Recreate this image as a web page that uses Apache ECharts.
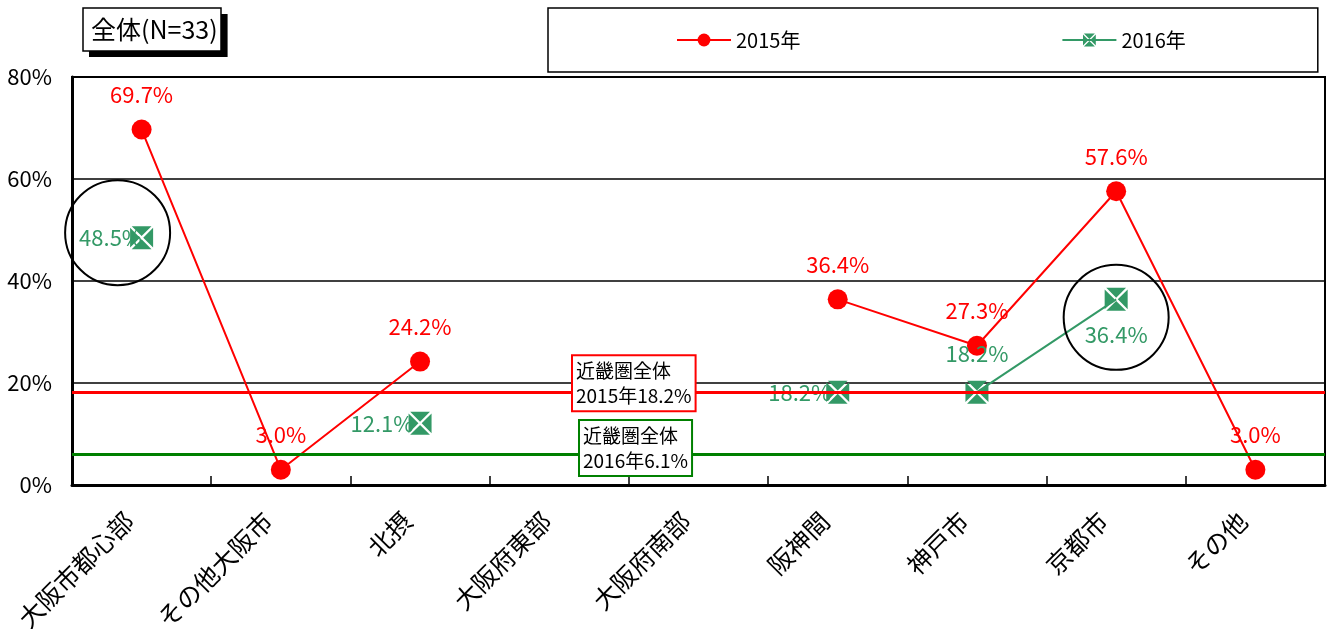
<!DOCTYPE html>
<html>
<head>
<meta charset="utf-8">
<script src="https://cdn.jsdelivr.net/npm/echarts@6/dist/echarts.min.js"></script>
<style>
  html, body { margin: 0; background: #fff; }
  #chart { width: 1332px; height: 637px; }
</style>
</head>
<body>
<div id="chart"></div>
<script>
const categories = ['大阪市都心部', 'その他大阪市', '北摂', '大阪府東部', '大阪府南部', '阪神間', '神戸市', '京都市', 'その他']
const values2015 = [69.7, 3.0, 24.2, null, null, 36.4, 27.3, 57.6, 3.0]
const values2016 = [48.5, null, 12.1, null, null, 18.2, 18.2, 36.4, null]
const seriesNames = ['2015年', '2016年']
const average2015 = 18.2
const average2016 = 6.1
const yTicks = [0, 20, 40, 60, 80]
const titleText = '全体(N=33)'

const font = 'Noto Sans CJK JP'
const red = '#ff0000'
const green = '#339966'
// square split by a white X
const crossBox = 'path://M1.4 0L18.6 0L10 8.6Z M1.4 20L18.6 20L10 11.4Z M0 1.4L0 18.6L8.6 10Z M20 1.4L20 18.6L11.4 10Z'

// label placement of the 2016 points
const pos2016 = ['left', null, 'left', null, null, 'left', 'top', 'bottom', null]
const dist2016 = [-12, 0, -5, 0, 0, -5, 16, 13, 0]

const pct = p => p.value == null ? '' : p.value.toFixed(1) + '%'

const titleBox = {
  text: titleText,
  padding: [9, 4, 9, 8],
  textStyle: { fontFamily: font, fontSize: 25, fontWeight: 'normal', color: '#000' }
}

const chart = echarts.init(document.getElementById('chart'))
chart.setOption({
  animation: false,
  textStyle: { fontFamily: font },
  title: [
    // drop shadow behind the title box
    Object.assign({}, titleBox, {
      left: 89, top: 14, backgroundColor: '#000',
      textStyle: Object.assign({}, titleBox.textStyle, { color: 'rgba(0,0,0,0)' })
    }),
    Object.assign({}, titleBox, {
      left: 83, top: 8, backgroundColor: '#fff', borderColor: '#000', borderWidth: 1.5
    })
  ],
  legend: {
    left: 548,
    top: 8,
    padding: [22, 132, 22, 128],
    itemGap: 261,
    itemWidth: 54,
    itemHeight: 16,
    borderColor: '#000',
    borderWidth: 1.5,
    backgroundColor: '#fff',
    textStyle: { fontFamily: font, fontSize: 20, color: '#000' },
    data: seriesNames
  },
  grid: {
    left: 72,
    right: 7,
    top: 77,
    bottom: 152,
    show: true,
    borderColor: '#000',
    borderWidth: 2
  },
  xAxis: {
    type: 'category',
    data: categories,
    boundaryGap: true,
    axisLine: { lineStyle: { color: '#000', width: 3 } },
    axisTick: { show: true, inside: true, length: 9, interval: 0, lineStyle: { color: '#000', width: 1.5 } },
    axisLabel: {
      interval: 0, rotate: 45, margin: 19, padding: [0, 18, 0, 0],
      color: '#000', fontSize: 25, fontFamily: font
    },
    splitLine: { show: false }
  },
  yAxis: {
    type: 'value',
    min: yTicks[0],
    max: yTicks[yTicks.length - 1],
    interval: yTicks[1] - yTicks[0],
    axisLine: { show: true, lineStyle: { color: '#000', width: 3 } },
    axisTick: { show: false },
    axisLabel: { formatter: '{value}%', margin: 20, color: '#000', fontSize: 22, fontFamily: font },
    splitLine: { lineStyle: { color: '#000', width: 1.5 } }
  },
  series: [
    {
      name: seriesNames[0],
      type: 'line',
      data: values2015,
      symbol: 'circle',
      symbolSize: 20,
      color: red,
      lineStyle: { color: red, width: 2 },
      itemStyle: { color: red },
      label: {
        show: true,
        position: 'top',
        distance: 14,
        formatter: pct,
        color: red,
        fontSize: 22,
        fontFamily: font
      },
      markLine: {
        silent: true,
        symbol: ['none', 'none'],
        lineStyle: { color: red, width: 3, type: 'solid' },
        label: {
          show: true,
          position: 'insideStartTop',
          distance: [501, -18],
          formatter: '近畿圏全体\n2015年' + average2015.toFixed(1) + '%',
          color: '#000',
          fontSize: 19,
          lineHeight: 25,
          fontFamily: font,
          backgroundColor: '#fff',
          borderColor: red,
          borderWidth: 2,
          padding: [2, 3]
        },
        data: [{ yAxis: average2015 }]
      }
    },
    {
      name: seriesNames[1],
      type: 'line',
      symbol: crossBox,
      symbolSize: 23,
      color: green,
      lineStyle: { color: green, width: 2 },
      itemStyle: { color: green },
      data: values2016.map((v, i) => ({
        value: v,
        label: {
          show: v != null,
          position: pos2016[i] || 'top',
          distance: dist2016[i]
        }
      })),
      label: {
        show: true,
        formatter: pct,
        color: green,
        fontSize: 22,
        fontFamily: font
      },
      markLine: {
        silent: true,
        symbol: ['none', 'none'],
        lineStyle: { color: '#008000', width: 3, type: 'solid' },
        label: {
          show: true,
          position: 'insideStartTop',
          distance: [508, -21],
          formatter: '近畿圏全体\n2016年' + average2016.toFixed(1) + '%',
          color: '#000',
          fontSize: 19,
          lineHeight: 25,
          fontFamily: font,
          backgroundColor: '#fff',
          borderColor: '#008000',
          borderWidth: 2,
          padding: [2, 3]
        },
        data: [{ yAxis: average2016 }]
      },
      markPoint: {
        silent: true,
        symbol: 'circle',
        symbolSize: 105,
        itemStyle: { color: 'rgba(0,0,0,0)', borderColor: '#000', borderWidth: 2 },
        label: { show: false },
        data: [
          { coord: [categories[0], values2016[0]], symbolOffset: [-24, -5] },
          { coord: [categories[7], values2016[7]], symbolOffset: [0, 18] }
        ]
      }
    }
  ]
})
</script>
</body>
</html>
